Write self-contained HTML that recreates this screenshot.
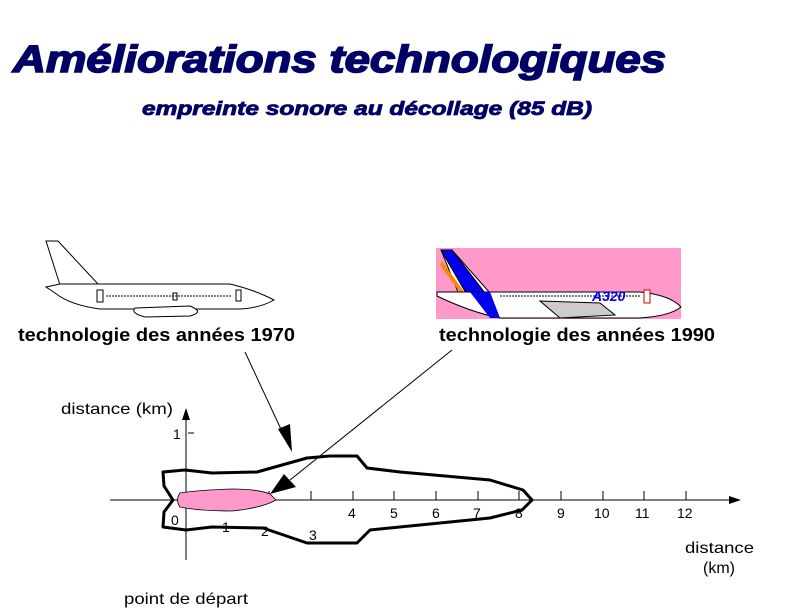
<!DOCTYPE html>
<html><head><meta charset="utf-8"><style>
html,body{margin:0;padding:0;background:#fff;}
svg{display:block;}
text{font-family:"Liberation Sans",Arial,sans-serif;}
</style></head><body>
<svg width="788" height="614" viewBox="0 0 788 614" xmlns="http://www.w3.org/2000/svg">
<text x="13" y="72" font-size="38" font-weight="bold" font-style="italic" fill="#000066" stroke="#000066" stroke-width="1.6" textLength="653" lengthAdjust="spacingAndGlyphs">Améliorations technologiques</text>
<text x="142" y="115" font-size="19" font-weight="bold" font-style="italic" fill="#000066" stroke="#000066" stroke-width="0.8" textLength="450" lengthAdjust="spacingAndGlyphs">empreinte sonore au décollage (85 dB)</text>

<g fill="#fff" stroke="#000" stroke-width="1">
<path d="M46 241 L58 241 L98 284 L60 285 Z"/>
<path d="M46 287 L60 284 L230 284 Q255 290 274 300 Q260 308 240 309 L100 309 Q70 305 55 293 Z"/>
<path d="M135 308 L190 306 Q205 312 190 316 L145 317 Q130 313 135 308 Z"/>
<rect x="97" y="290" width="6" height="12"/>
<rect x="173" y="293" width="4" height="7"/>
<rect x="236" y="290" width="5" height="11"/>
<line x1="106" y1="296" x2="232" y2="296" stroke-dasharray="2 1"/>
</g>

<rect x="436" y="248" width="245" height="71" fill="#ff99cc"/>
<g stroke="#000" stroke-width="1">
<path d="M441 250 L452 250 L490 293 L460 297 Z" fill="#fff"/>
<path d="M441 250 L452 250 L485 293 L470 300 Z" fill="#0000ee"/>
<path d="M442 261 L470 300 L466 301 L440 265 Z" fill="#ff8800" stroke="none"/>
<path d="M437 292 L640 292 Q670 295 681 307 Q670 316 640 318 L500 318 Q470 312 437 296 Z" fill="#fff"/>
<path d="M470 292 L490 292 L500 318 L490 318 Z" fill="#0000ee" stroke="none"/>
<path d="M540 301 L600 303 L615 315 L560 318 Z" fill="#ccc"/>
<rect x="644" y="290" width="6" height="13" fill="#fff" stroke="#cc0000"/>
<line x1="500" y1="296" x2="640" y2="296" stroke-dasharray="2 1"/>
</g>
<text x="592" y="301" font-size="14" font-weight="bold" font-style="italic" fill="#0000ee">A320</text>

<text x="18" y="341" font-size="18" font-weight="bold" fill="#000" textLength="277" lengthAdjust="spacingAndGlyphs">technologie des années 1970</text>
<text x="439" y="341" font-size="18" font-weight="bold" fill="#000" textLength="276" lengthAdjust="spacingAndGlyphs">technologie des années 1990</text>

<g stroke="#000" stroke-width="1" fill="none">
<line x1="110" y1="500" x2="735" y2="500"/>
<line x1="186" y1="414" x2="186" y2="560"/>
<line x1="188" y1="433" x2="194" y2="433"/>
<line x1="228" y1="491" x2="228" y2="500"/><line x1="269" y1="491" x2="269" y2="500"/>
<line x1="311" y1="491" x2="311" y2="500"/><line x1="353" y1="491" x2="353" y2="500"/>
<line x1="394" y1="491" x2="394" y2="500"/><line x1="436" y1="491" x2="436" y2="500"/>
<line x1="478" y1="491" x2="478" y2="500"/><line x1="519" y1="491" x2="519" y2="500"/>
<line x1="561" y1="491" x2="561" y2="500"/><line x1="603" y1="491" x2="603" y2="500"/>
<line x1="644" y1="491" x2="644" y2="500"/><line x1="686" y1="491" x2="686" y2="500"/>
</g>
<path d="M741 500 L729 496 L729 504 Z" fill="#000"/>
<path d="M186 408 L182 420 L190 420 Z" fill="#000"/>

<path d="M163 472 L185 470 L212 473 L257 472 L307 458 L330 456 L357 456 L367 468 L400 472 L490 480 L523 490 L532 500 L522 510 L490 518 L370 530 L357 543 L307 543 L263 528 L212 527 L186 530 L163 527 L164 512 L173 500 L164 486 Z" fill="none" stroke="#000" stroke-width="3" stroke-linejoin="round"/>
<path d="M180 493 Q200 490 232 489 Q258 489 270 494 L276 500 Q262 508 232 511 Q200 511 180 507 Q175 500 180 493 Z" fill="#ff99cc" stroke="#000" stroke-width="0.8"/>

<line x1="245" y1="352" x2="286" y2="440" stroke="#000" stroke-width="1"/>
<path d="M292 452 L278 429 L290 424 Z" fill="#000"/>
<line x1="452" y1="350" x2="290" y2="480" stroke="#000" stroke-width="1"/>
<path d="M270 494 L284 474 L296 487 Z" fill="#000"/>

<g font-size="14" fill="#000">
<text x="171" y="525">0</text><text x="222" y="532">1</text>
<text x="261" y="536">2</text><text x="309" y="540">3</text>
<text x="348" y="518">4</text><text x="390" y="518">5</text>
<text x="432" y="518">6</text><text x="473" y="518">7</text>
<text x="515" y="518">8</text><text x="557" y="518">9</text>
<text x="594" y="518">10</text><text x="635" y="518">11</text>
<text x="677" y="518">12</text>
<text x="173" y="439">1</text>
</g>
<g font-size="16" fill="#000">
<text x="61" y="414" textLength="112" lengthAdjust="spacingAndGlyphs">distance (km)</text>
<text x="685" y="553" textLength="69" lengthAdjust="spacingAndGlyphs">distance</text>
<text x="703" y="573">(km)</text>
<text x="124" y="604" textLength="124" lengthAdjust="spacingAndGlyphs">point de départ</text>
</g>
</svg>
</body></html>
